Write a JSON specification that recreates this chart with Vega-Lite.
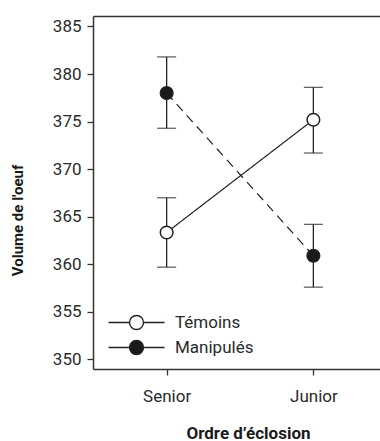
{
  "$schema": "https://vega.github.io/schema/vega-lite/v6.json",
  "autosize": {"type": "none"},
  "padding": {"left": 93, "top": 16, "right": 0, "bottom": 72},
  "width": 287,
  "height": 353,
  "data": {"values": [
    {"ordre": "Senior", "groupe": "Témoins", "moyenne": 363.35, "bas": 359.7, "haut": 367.0},
    {"ordre": "Junior", "groupe": "Témoins", "moyenne": 375.2, "bas": 371.7, "haut": 378.6},
    {"ordre": "Senior", "groupe": "Manipulés", "moyenne": 378.0, "bas": 374.3, "haut": 381.8},
    {"ordre": "Junior", "groupe": "Manipulés", "moyenne": 360.9, "bas": 357.6, "haut": 364.2}
  ]},
  "config": {
    "view": {"stroke": null},
    "font": "Roboto",
    "axis": {"grid": false, "domainColor": "#333", "domainWidth": 1.5, "tickColor": "#333", "tickWidth": 1.3, "tickSize": 6,
             "labelFont": "Roboto", "labelFontSize": 17, "labelColor": "#2a2a2a",
             "titleFont": "Roboto", "titleFontWeight": "bold", "titleColor": "#1a1a1a"},
    "legend": {"labelFont": "Roboto", "labelFontSize": 17, "labelColor": "#2a2a2a"}
  },
  "resolve": {"axis": {"x": "independent"}},
  "layer": [
    {
      "mark": {"type": "rule", "color": "#222", "strokeWidth": 1.3},
      "encoding": {
        "x": {"field": "ordre", "type": "nominal", "sort": ["Senior", "Junior"],
              "scale": {"type": "point", "domain": ["Senior", "Junior"], "padding": 0.478, "align": 0.525},
              "axis": {"orient": "top", "labels": false, "ticks": false, "title": null}},
        "y": {"field": "bas", "type": "quantitative",
              "scale": {"domain": [349, 386.1], "nice": false, "zero": false},
              "axis": {"values": [350, 355, 360, 365, 370, 375, 380, 385], "labelPadding": 6,
                       "title": "Volume de l'oeuf", "titleFontSize": 15, "titleX": -68, "titleY": 204}},
        "y2": {"field": "haut"}
      }
    },
    {
      "mark": {"type": "tick", "color": "#222", "thickness": 1.3, "size": 19},
      "encoding": {
        "x": {"field": "ordre", "type": "nominal", "sort": ["Senior", "Junior"], "axis": null},
        "y": {"field": "bas", "type": "quantitative"}
      }
    },
    {
      "mark": {"type": "tick", "color": "#222", "thickness": 1.3, "size": 19},
      "encoding": {
        "x": {"field": "ordre", "type": "nominal", "sort": ["Senior", "Junior"], "axis": null},
        "y": {"field": "haut", "type": "quantitative"}
      }
    },
    {
      "mark": {"type": "line", "color": "#222", "strokeWidth": 1.2},
      "encoding": {
        "x": {"field": "ordre", "type": "nominal", "sort": ["Senior", "Junior"], "axis": null},
        "y": {"field": "moyenne", "type": "quantitative"},
        "detail": {"field": "groupe"},
        "strokeDash": {"field": "groupe", "type": "nominal",
                       "scale": {"range": [[9, 6], [1, 0]]}, "legend": null}
      }
    },
    {
      "mark": {"type": "point", "filled": true, "size": 160, "stroke": "#222", "strokeWidth": 1.5, "opacity": 1},
      "encoding": {
        "x": {"field": "ordre", "type": "nominal", "sort": ["Senior", "Junior"],
              "axis": {"orient": "bottom", "title": "Ordre d’éclosion", "labelAngle": 0, "labelPadding": 13,
                       "titleFontSize": 17, "titleBaseline": "alphabetic", "titleY": 69, "titleX": 155}},
        "y": {"field": "moyenne", "type": "quantitative"},
        "fill": {"field": "groupe", "type": "nominal",
                 "scale": {"domain": ["Témoins", "Manipulés"], "range": ["#ffffff", "#1a1a1a"]},
                 "legend": {"orient": "none", "legendX": 35, "legendY": 298, "title": null,
                            "symbolType": "M-4,0L-1,0M1,0L4,0M-1,0A1,1 0 1,1 1,0A1,1 0 1,1 -1,0Z",
                            "symbolSize": 196, "symbolStrokeColor": "#222", "symbolStrokeWidth": 1.4,
                            "labelOffset": 30, "rowPadding": 4}}
      }
    }
  ]
}
